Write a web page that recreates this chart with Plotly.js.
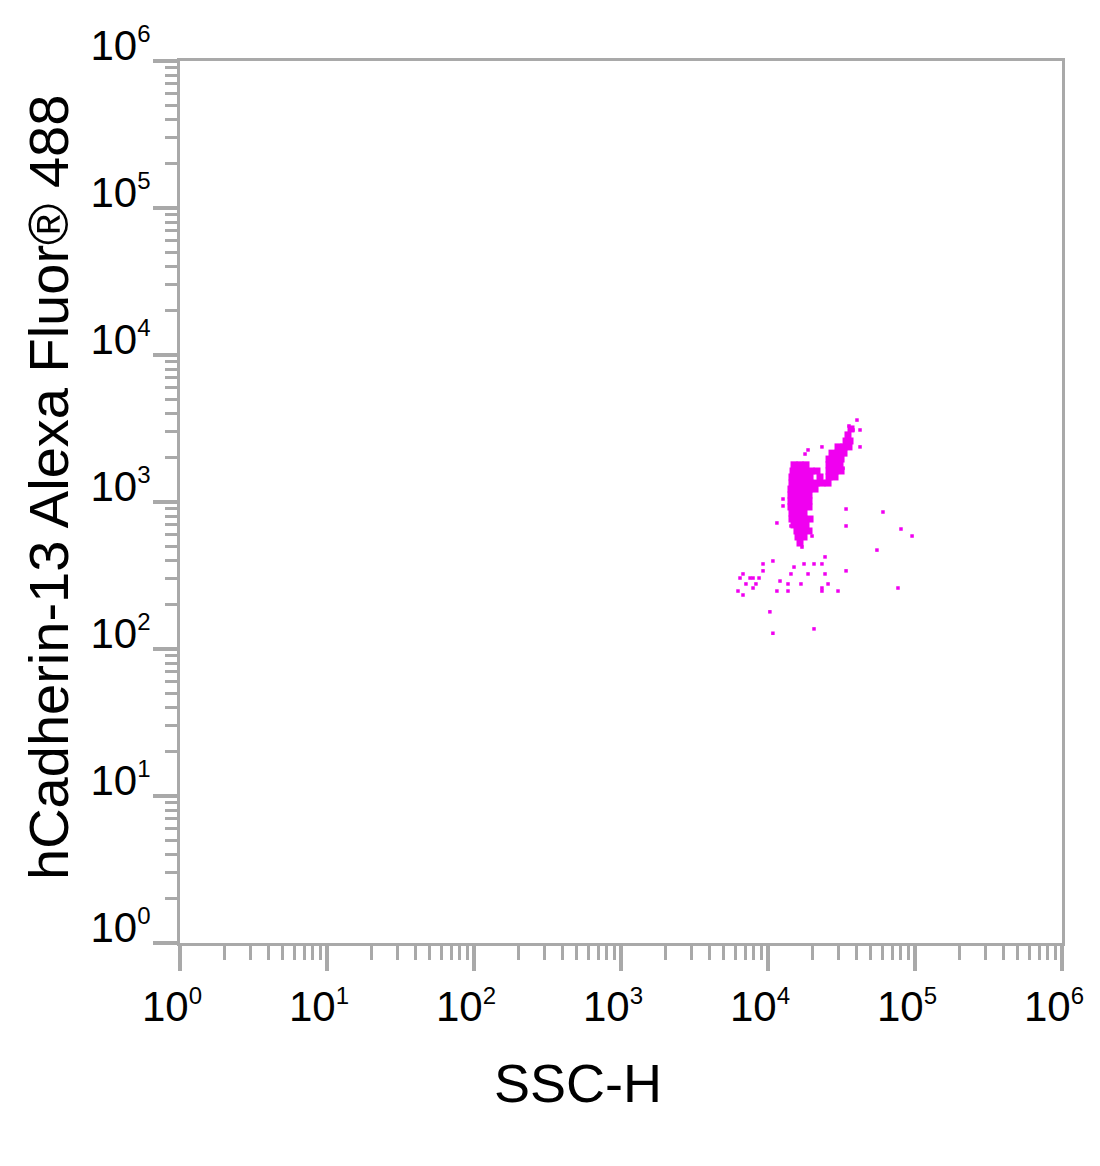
<!DOCTYPE html>
<html>
<head>
<meta charset="utf-8">
<script src="https://cdn.plot.ly/plotly-3.0.1.min.js"></script>
<style>html,body{margin:0;padding:0;background:#fff;}#chart{width:1100px;height:1166px;}</style>
</head>
<body>
<div id="chart"></div>
<script>
// Dense population core (SSC-H, hCadherin-13 Alexa Fluor 488)
const coreX = [
  36700,
  35000,
  33960, 36130,
  29940, 32890, 35560,
  27250, 29940, 32890,
  26010, 28570, 31400,
  15030, 16510, 18140, 26010, 28570, 30900,
  14800, 16250, 17860, 19630, 21540, 26010, 28570, 31400,
  14560, 16000, 17580, 19320, 22580, 26010, 28570,
  14560, 16000, 17580, 19320, 21220, 23280, 25610,
  14330, 15740, 17300, 19010, 20890,
  14330, 15740, 17300, 19010,
  14330, 15740, 17300, 19010,
  14330, 15740, 17300, 19010,
  14560, 16000, 17580,
  14560, 16000, 17580, 19320,
  15030, 16510, 18140,
  15740, 17300, 19010,
  16000, 17580,
  16510
];
const coreY = [
  3140,
  2860,
  2600, 2600,
  2370, 2370, 2370,
  2150, 2150, 2150,
  1960, 1960, 1960,
  1790, 1790, 1790, 1790, 1790, 1790,
  1625, 1625, 1625, 1625, 1625, 1625, 1625, 1625,
  1480, 1480, 1480, 1480, 1480, 1480, 1480,
  1345, 1345, 1345, 1345, 1345, 1345, 1345,
  1225, 1225, 1225, 1225, 1225,
  1116, 1116, 1116, 1116,
  1016, 1016, 1016, 1016,
  925, 925, 925, 925,
  842, 842, 842,
  766, 766, 766, 766,
  698, 698, 698,
  635, 635, 635,
  578, 578,
  526
];
// Sparse events
const sparseX = [
  40300, 35560, 42270, 37880, 18720, 17860, 23280, 29450, 42270, 32380,
  12650, 12650, 33960, 60550, 11500, 14330, 14330, 33960, 19930, 80300,
  95500, 55100, 17030, 24430, 10800, 9250, 9250, 17580, 20560, 23280,
  15030, 6760, 6450, 7550, 7910, 8690, 14330, 18720, 24430, 33960,
  12070, 7080, 8280, 13680, 16760, 25610, 7910, 6250, 6760, 11500,
  13680, 23280, 23280, 29940, 76600, 10300, 10800, 20560
];
const sparseY = [
  3610, 3290, 3090, 3090, 2260, 2120, 2370, 2330, 2370, 1700,
  1048, 940, 896, 855, 720, 766, 687, 687, 587, 655,
  587, 471, 494, 423, 397, 379, 340, 379, 379, 379,
  361, 324, 304, 304, 304, 304, 324, 324, 324, 340,
  290, 277, 277, 277, 277, 277, 260, 248, 233, 248,
  248, 260, 248, 248, 260, 179, 128, 137
];
const tickVals = [1, 10, 100, 1000, 10000, 100000, 1000000];
const tickExp = ['0', '1', '2', '3', '4', '5', '6'];
const tickText = tickExp.map(e => '10<sup><span style="font-size:24px">' + e + '</span></sup>');
const xTitle = 'SSC-H';
const yTitle = 'hCadherin-13 Alexa Fluor® 488';

const gray = '#a9a9a9';
const mag = '#f000f0';
const axisCommon = {
  type: 'log',
  range: [0, 6],
  showgrid: false,
  zeroline: false,
  showline: true,
  linecolor: gray,
  linewidth: 3,
  mirror: true,
  ticks: 'outside',
  tickcolor: gray,
  tickwidth: 4,
  tickvals: tickVals,
  ticktext: tickText,
  tickfont: {family: 'Liberation Sans, Arial, sans-serif', size: 42, color: '#000'},
  minor: {dtick: 'D1', ticks: 'outside', tickcolor: gray, tickwidth: 3, showgrid: false}
};

const data = [
  {x: coreX, y: coreY, type: 'scatter', mode: 'markers', hoverinfo: 'skip',
   marker: {symbol: 'square', size: 7, color: mag, line: {width: 0}}},
  {x: sparseX, y: sparseY, type: 'scatter', mode: 'markers', hoverinfo: 'skip',
   marker: {symbol: 'square', size: 3.5, color: mag, line: {width: 0}}}
];

const layout = {
  width: 1100, height: 1166,
  margin: {l: 180, r: 38, t: 61, b: 223},
  paper_bgcolor: '#fff', plot_bgcolor: '#fff',
  showlegend: false,
  font: {family: 'Liberation Sans, Arial, sans-serif', color: '#000'},
  xaxis: Object.assign({}, axisCommon, {ticklen: 25, minor: Object.assign({}, axisCommon.minor, {ticklen: 14}), ticklabelshift: -8}),
  yaxis: Object.assign({}, axisCommon, {ticklen: 24, minor: Object.assign({}, axisCommon.minor, {ticklen: 12}), ticklabelshift: -16, ticklabelstandoff: -6}),
  annotations: [
    {text: xTitle, xref: 'paper', yref: 'paper', x: 0.451, y: -0.1587, xanchor: 'center', yanchor: 'middle',
     showarrow: false, font: {size: 54, color: '#000'}},
    {text: yTitle, xref: 'paper', yref: 'paper', x: -0.1497, y: 0.517, xanchor: 'center', yanchor: 'middle',
     textangle: -90, showarrow: false, font: {size: 56, color: '#000'}}
  ]
};

Plotly.newPlot('chart', data, layout, {displayModeBar: false, staticPlot: true});
</script>
</body>
</html>
